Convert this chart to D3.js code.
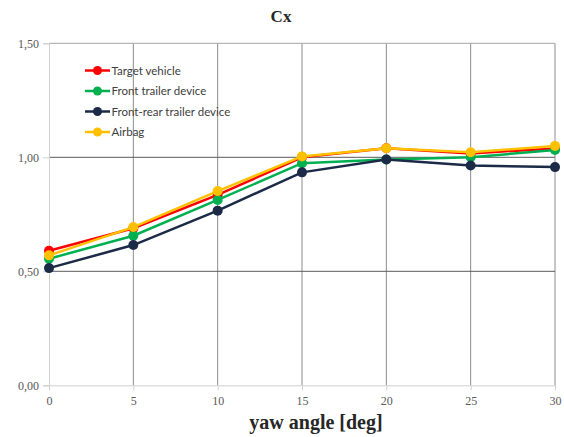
<!DOCTYPE html>
<html lang="en">
<head>
  <meta charset="UTF-8">
  <title>Cx</title>
  <style type="text/css">
    body { margin: 0px; background: #fff; }
    .tick text { font-family: "Liberation Serif", serif; font-size: 12px; fill: #595959; }
    .legend text { font-family: Lato, sans-serif; font-size: 11.5px; fill: #404040; }
  </style>
  <script src="https://d3js.org/d3.v7.min.js"></script>
</head>
<body>
  <svg width="564" height="437"></svg>
  <script>
    const yaw = [0, 5, 10, 15, 20, 25, 30];
    const seriesNames = ['Target vehicle', 'Front trailer device', 'Front-rear trailer device', 'Airbag'];
    const targetVehicle = [0.590, 0.689, 0.835, 1.000, 1.040, 1.017, 1.039];
    const frontTrailer = [0.555, 0.656, 0.813, 0.974, 0.990, 1.000, 1.032];
    const frontRearTrailer = [0.514, 0.615, 0.766, 0.934, 0.990, 0.964, 0.957];
    const airbag = [0.570, 0.694, 0.852, 1.004, 1.040, 1.022, 1.050];
    const colors = ['#ff0000', '#00b050', '#1b2a47', '#ffc000'];
    const yTicks = [0, 0.5, 1.0, 1.5];

    const series = [targetVehicle, frontTrailer, frontRearTrailer, airbag];

    const svg = d3.select('svg');
    const plot = { left: 49, right: 555, top: 43.3, bottom: 385.3 };

    const x = d3.scaleLinear().domain([0, 30]).range([plot.left, plot.right]);
    const y = d3.scaleLinear().domain([0, 1.5]).range([plot.bottom, plot.top]);
    const fmt = d => d3.format('.2f')(d).replace('.', ',');

    // vertical grid
    svg.append('g').selectAll('line').data(yaw.slice(1)).enter().append('line')
      .attr('x1', d => x(d)).attr('x2', d => x(d))
      .attr('y1', plot.top).attr('y2', plot.bottom)
      .attr('stroke', '#8c8c8c').attr('stroke-width', 1);

    // horizontal grid
    svg.append('g').selectAll('line').data(yTicks.slice(1)).enter().append('line')
      .attr('x1', plot.left).attr('x2', plot.right)
      .attr('y1', d => y(d)).attr('y2', d => y(d))
      .attr('stroke', d => d === 1.5 ? '#a6a6a6' : '#595959').attr('stroke-width', 1);

    const yAxis = svg.append('g')
      .attr('transform', `translate(${plot.left},0)`)
      .call(d3.axisLeft(y).tickValues(yTicks).tickFormat(fmt).tickSize(6).tickPadding(4));
    yAxis.select('.domain').attr('stroke', '#d0d0d0');
    yAxis.selectAll('.tick line').attr('stroke', '#d0d0d0');

    const xAxis = svg.append('g')
      .attr('transform', `translate(0,${plot.bottom})`)
      .call(d3.axisBottom(x).tickValues(yaw).tickFormat(d3.format('d')).tickSize(5).tickPadding(6));
    xAxis.select('.domain').attr('stroke', '#d0d0d0');
    xAxis.selectAll('.tick line').attr('stroke', '#d0d0d0');

    const line = d3.line().x((d, i) => x(yaw[i])).y(d => y(d));

    series.forEach((s, k) => {
      svg.append('path').datum(s)
        .attr('d', line)
        .attr('fill', 'none')
        .attr('stroke', colors[k])
        .attr('stroke-width', 2.5);
      svg.append('g').selectAll('circle').data(s).enter().append('circle')
        .attr('cx', (d, i) => x(yaw[i]))
        .attr('cy', d => y(d))
        .attr('r', 5)
        .attr('fill', colors[k]);
    });

    // legend
    const legend = svg.append('g').attr('class', 'legend');
    seriesNames.forEach((name, k) => {
      const ly = 70.5 + k * 20.5;
      legend.append('line')
        .attr('x1', 85).attr('x2', 110).attr('y1', ly).attr('y2', ly)
        .attr('stroke', colors[k]).attr('stroke-width', 2.5);
      legend.append('circle')
        .attr('cx', 97.5).attr('cy', ly).attr('r', 4.5).attr('fill', colors[k]);
      legend.append('text')
        .attr('x', 111.5).attr('y', ly).attr('dy', '0.35em')
        .text(name);
    });

    svg.append('text')
      .attr('x', 281).attr('y', 21.5)
      .attr('text-anchor', 'middle')
      .style('font-family', '"Liberation Serif", serif')
      .style('font-weight', 'bold')
      .style('font-size', '17px')
      .attr('fill', '#262626')
      .text('Cx');

    svg.append('text')
      .attr('x', 316).attr('y', 429)
      .attr('text-anchor', 'middle')
      .style('font-family', '"Liberation Serif", serif')
      .style('font-weight', 'bold')
      .style('font-size', '20px')
      .attr('fill', '#262626')
      .text('yaw angle [deg]');
  </script>
</body>
</html>
